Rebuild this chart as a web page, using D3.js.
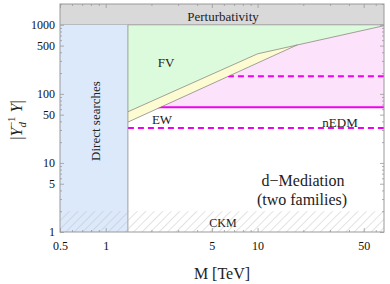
<!DOCTYPE html>
<html>
<head>
<meta charset="utf-8">
<script src="https://cdn.jsdelivr.net/npm/d3@7.9.0/dist/d3.min.js"></script>
<style>
  html, body { margin: 0; padding: 0; background: #fff; }
  svg { display: block; font-family: "Liberation Serif", "DejaVu Serif", serif; }
</style>
</head>
<body>
<svg id="chart" width="390" height="284"></svg>
<script>
// ---- data ----
const xTicks = [0.5, 1, 5, 10, 50];
const xTickLabels = ['0.5', '1', '5', '10', '50'];
const yTicks = [1, 5, 10, 50, 100, 500, 1000];
const yTickLabels = ['1', '5', '10', '50', '100', '500', '1000'];

const xDomain = [0.5, 68];
const yDomain = [1, 2000];

const perturbativityY = 1000;   // gray band above
const directSearchM = 1.4;      // blue band left of this
const ckmY = 2;                 // hatched band below

// upper edge of the yellow band (FV bound), [M, Y]
const fvLine = [[1.4, 55], [10, 380], [68, 970]];
// lower edge of the yellow band (EW bound)
const ewLine = [[1.4, 39], [18.3, 513]];

const nedmY = 64;
const nedmHiY = 180;
const nedmLoY = 32;

// ---- layout ----
const width = 390, height = 284;
const area = { left: 60, right: 384, top: 4, bottom: 232 };

const svg = d3.select('#chart');

const x = d3.scaleLog().domain(xDomain).range([area.left, area.right]);
const y = d3.scaleLog().domain(yDomain).range([area.bottom, area.top]);

const line = d3.line().x(d => x(d[0])).y(d => y(d[1]));

// lower envelope = EW line, then FV line past the merge point
const lastEw = ewLine[ewLine.length - 1];
const envelope = ewLine.concat(fvLine.filter(d => d[0] > lastEw[0]));

const defs = svg.append('defs');
defs.append('clipPath').attr('id', 'plot-clip')
  .append('rect')
  .attr('x', area.left).attr('y', area.top)
  .attr('width', area.right - area.left).attr('height', area.bottom - area.top);

defs.append('clipPath').attr('id', 'below-env')
  .append('path')
  .attr('d', line(envelope.concat([[xDomain[1], yDomain[0]], [directSearchM, yDomain[0]]])));

const hatch = defs.append('pattern')
  .attr('id', 'hatch')
  .attr('patternUnits', 'userSpaceOnUse')
  .attr('width', 6).attr('height', 6)
  .attr('patternTransform', 'rotate(45)');
hatch.append('line')
  .attr('x1', 0).attr('y1', 0).attr('x2', 0).attr('y2', 6)
  .attr('stroke', '#b8b8b8').attr('stroke-width', 0.8);

const g = svg.append('g').attr('clip-path', 'url(#plot-clip)');

// FV (green): above FV line up to perturbativity
g.append('path')
  .attr('d', line(fvLine.concat([[xDomain[1], perturbativityY], [directSearchM, perturbativityY]])))
  .attr('fill', '#dcfadc');

// yellow band between FV and EW lines
g.append('path')
  .attr('d', line(fvLine.concat(envelope.slice().reverse())))
  .attr('fill', '#fdfbd2');

// pink: below the envelope, above nEDM
g.append('rect')
  .attr('clip-path', 'url(#below-env)')
  .attr('x', x(directSearchM))
  .attr('y', y(perturbativityY))
  .attr('width', x(xDomain[1]) - x(directSearchM))
  .attr('height', y(nedmY) - y(perturbativityY))
  .attr('fill', '#fde2fb');

// boundary lines
g.append('path').attr('d', line(fvLine))
  .attr('fill', 'none').attr('stroke', '#8a8a80').attr('stroke-width', 0.8);
g.append('path').attr('d', line(ewLine))
  .attr('fill', 'none').attr('stroke', '#8a8a80').attr('stroke-width', 0.8);

// nEDM lines
const nedmG = g.append('g').attr('clip-path', 'url(#below-env)');
nedmG.append('line')
  .attr('x1', x(directSearchM)).attr('x2', x(xDomain[1]))
  .attr('y1', y(nedmY)).attr('y2', y(nedmY))
  .attr('stroke', '#f000f0').attr('stroke-width', 2);
[nedmHiY, nedmLoY].forEach(v => {
  nedmG.append('line')
    .attr('x1', x(directSearchM)).attr('x2', x(xDomain[1]))
    .attr('y1', y(v)).attr('y2', y(v))
    .attr('stroke', '#f000f0').attr('stroke-width', 2)
    .attr('stroke-dasharray', '6,4');
});

// perturbativity band
g.append('rect')
  .attr('x', area.left).attr('y', area.top)
  .attr('width', area.right - area.left)
  .attr('height', y(perturbativityY) - area.top)
  .attr('fill', '#d9d9d9');
g.append('line')
  .attr('x1', area.left).attr('x2', area.right)
  .attr('y1', y(perturbativityY)).attr('y2', y(perturbativityY))
  .attr('stroke', '#8c8c8c').attr('stroke-width', 0.8);

// direct searches band
g.append('rect')
  .attr('x', x(xDomain[0])).attr('y', y(perturbativityY))
  .attr('width', x(directSearchM) - x(xDomain[0]))
  .attr('height', y(yDomain[0]) - y(perturbativityY))
  .attr('fill', '#dce9fb');
g.append('line')
  .attr('x1', x(directSearchM)).attr('x2', x(directSearchM))
  .attr('y1', y(perturbativityY)).attr('y2', y(yDomain[0]))
  .attr('stroke', '#8c8c8c').attr('stroke-width', 0.8);

// CKM hatched band
g.append('rect')
  .attr('x', area.left).attr('y', y(ckmY))
  .attr('width', area.right - area.left)
  .attr('height', y(yDomain[0]) - y(ckmY))
  .attr('fill', 'url(#hatch)');

// ---- axes (ticks inside, Mathematica style) ----
const minor = (lo, hi) => {
  const out = [];
  for (let e = -1; e <= 3; e++) {
    for (let k = 1; k <= 9; k++) {
      const v = k * Math.pow(10, e);
      if (v >= lo && v <= hi) out.push(v);
    }
  }
  return out;
};
const xMinor = minor(xDomain[0], xDomain[1]).filter(v => !xTicks.includes(v));
const yMinor = minor(yDomain[0], yDomain[1]).filter(v => !yTicks.includes(v));

function styleAxis(sel) {
  sel.select('.domain').remove();
  sel.selectAll('line').attr('stroke', '#999').attr('stroke-width', 0.8);
  sel.selectAll('text').attr('fill', '#111').style('font-size', '12px')
    .style('font-family', '"Liberation Serif", serif');
}

const axes = [
  [d3.axisBottom(x), `translate(0,${area.bottom})`, xTicks, xMinor, xTickLabels, 9],
  [d3.axisTop(x), `translate(0,${area.top})`, xTicks, xMinor, null, 5],
  [d3.axisLeft(y), `translate(${area.left},0)`, yTicks, yMinor, yTickLabels, 5],
  [d3.axisRight(y), `translate(${area.right},0)`, yTicks, yMinor, null, 5],
];
axes.forEach(([ax, tr, major, minr, labels, pad]) => {
  svg.append('g').attr('transform', tr)
    .call(ax.tickValues(minr).tickSize(-2).tickFormat(''))
    .call(styleAxis);
  const a = ax.tickValues(major).tickSize(-4).tickPadding(pad)
    .tickFormat(labels ? (d, i) => labels[i] : '');
  svg.append('g').attr('transform', tr).call(a).call(styleAxis);
});

// frame
svg.append('rect')
  .attr('x', area.left).attr('y', area.top)
  .attr('width', area.right - area.left).attr('height', area.bottom - area.top)
  .attr('fill', 'none').attr('stroke', '#999').attr('stroke-width', 1);

// ---- labels ----
const txt = (tx, ty, s, size, rot) => {
  const t = svg.append('text')
    .attr('x', tx).attr('y', ty)
    .attr('text-anchor', 'middle')
    .attr('dominant-baseline', 'central')
    .attr('fill', '#222')
    .style('font-size', size + 'px')
    .text(s);
  if (rot) t.attr('transform', `rotate(${rot},${tx},${ty})`);
  return t;
};

txt(223, 16, 'Perturbativity', 13);
txt(166, 62, 'FV', 13);
txt(162, 119, 'EW', 13);
txt(340, 122, 'nEDM', 13);
txt(95, 121, 'Direct searches', 13, -90);
txt(223, 223, 'CKM', 12);
txt(303, 180, 'd\u2212Mediation', 16);
txt(302, 199, '(two families)', 16);
txt(222, 273, 'M [TeV]', 16);

// y axis label |Y_d^{-1} Y|
const yl = svg.append('text')
  .attr('transform', 'translate(22,120) rotate(-90)')
  .attr('text-anchor', 'middle')
  .attr('fill', '#222')
  .style('font-size', '16px');
yl.append('tspan').text('|');
yl.append('tspan').style('font-style', 'italic').text('Y');
yl.append('tspan').style('font-style', 'italic').style('font-size', '11px').attr('dy', 4).text('d');
yl.append('tspan').style('font-size', '11px').attr('dx', -6).attr('dy', -11).text('\u22121');
yl.append('tspan').attr('dy', 7).text(' ');
yl.append('tspan').style('font-style', 'italic').text('Y');
yl.append('tspan').text('|');
</script>
</body>
</html>
